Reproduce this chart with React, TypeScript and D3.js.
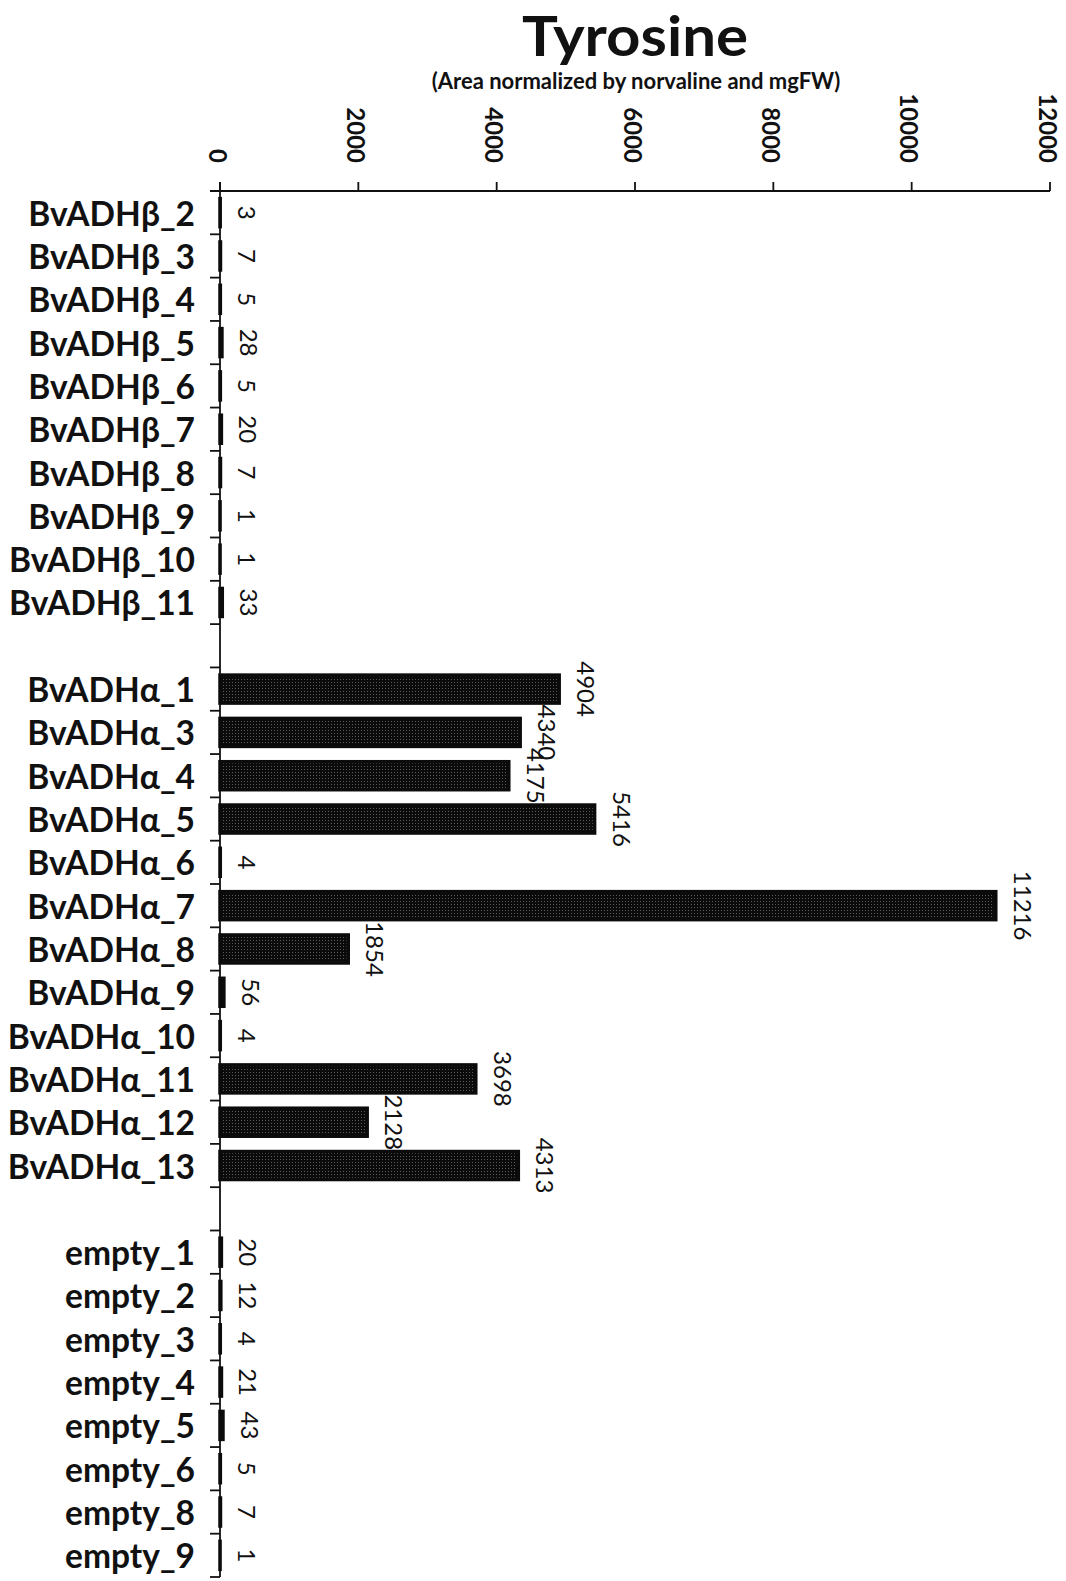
import React from "react";
import * as d3 from "d3";

const betaCategories = ["BvADHβ_2","BvADHβ_3","BvADHβ_4","BvADHβ_5","BvADHβ_6","BvADHβ_7","BvADHβ_8","BvADHβ_9","BvADHβ_10","BvADHβ_11"];
const betaValues = [3,7,5,28,5,20,7,1,1,33];
const alphaCategories = ["BvADHα_1","BvADHα_3","BvADHα_4","BvADHα_5","BvADHα_6","BvADHα_7","BvADHα_8","BvADHα_9","BvADHα_10","BvADHα_11","BvADHα_12","BvADHα_13"];
const alphaValues = [4904,4340,4175,5416,4,11216,1854,56,4,3698,2128,4313];
const emptyCategories = ["empty_1","empty_2","empty_3","empty_4","empty_5","empty_6","empty_8","empty_9"];
const emptyValues = [20,12,4,21,43,5,7,1];
const xTicks = [0,2000,4000,6000,8000,10000,12000];
const titleText = "Tyrosine";
const subtitleText = "(Area normalized by norvaline and mgFW)";

const W = 1066, H = 1581;
const FONT = "Lato, 'Noto Sans', sans-serif";

export default function App() {
  const slots: string[] = [...betaCategories, "__gap1", ...alphaCategories, "__gap2", ...emptyCategories];
  const rows = [
    ...betaCategories.map((c, i) => ({ c, v: betaValues[i] })),
    ...alphaCategories.map((c, i) => ({ c, v: alphaValues[i] })),
    ...emptyCategories.map((c, i) => ({ c, v: emptyValues[i] })),
  ];
  const pI = 0.3535;
  const y = d3.scaleBand<string>().domain(slots).range([191, 1577]).paddingInner(pI).paddingOuter(pI / 2);
  const x = d3.scaleLinear().domain([0, 12000]).range([220, 1050]);
  const step = y.step();
  const bw = y.bandwidth();
  const top = y.range()[0];
  const bottom = y.range()[1];
  const boundaries = d3.range(slots.length + 1).map((i) => top + i * step);
  const ink = "#111";

  return (
    <svg width={W} height={H} style={{ position: "absolute", left: 0, top: 0, background: "#fff" }}>
      <defs>
        <pattern id="dots" width={3} height={3} patternUnits="userSpaceOnUse">
          <rect width={3} height={3} fill="#0b0b0b" />
          <rect x={1} y={1} width={1} height={1} fill="#5a5a5a" />
        </pattern>
      </defs>
      <rect width={W} height={H} fill="#fff" />
      <text x={635} y={56} textAnchor="middle" fontFamily={FONT} fontWeight={700} fontSize={56}
        textLength={226} lengthAdjust="spacingAndGlyphs" fill={ink}>{titleText}</text>
      <text x={636} y={89} textAnchor="middle" fontFamily={FONT} fontWeight={700} fontSize={22} fill={ink}>{subtitleText}</text>

      {/* value axis */}
      <line x1={210} x2={x(12000)} y1={top} y2={top} stroke={ink} strokeWidth={1.8} />
      {xTicks.map((t) => (
        <g key={t}>
          <line x1={x(t)} x2={x(t)} y1={top} y2={top - 9} stroke={ink} strokeWidth={1.8} />
          <text transform={`translate(${x(t) - 2},${163}) rotate(90)`} textAnchor="end" dominantBaseline="central"
            fontFamily={FONT} fontWeight={700} fontSize={24} fill={ink}>{t}</text>
        </g>
      ))}

      {/* category axis */}
      <line x1={x(0)} x2={x(0)} y1={top - 9} y2={bottom} stroke={ink} strokeWidth={1.8} />
      {boundaries.map((b, i) => (
        <line key={i} x1={x(0) - 10} x2={x(0)} y1={b} y2={b} stroke={ink} strokeWidth={1.8} />
      ))}

      {rows.map((r) => {
        const yy = y(r.c)!;
        const cy = yy + bw / 2;
        return (
          <g key={r.c}>
            <rect x={x(0)} y={yy} width={x(r.v) - x(0)} height={bw} fill="url(#dots)" stroke="#0b0b0b" strokeWidth={3.5} />
            <text x={195} y={cy + 13} textAnchor="end" fontFamily={FONT} fontWeight={700} fontSize={33.5} fill={ink}>{r.c}</text>
            <text transform={`translate(${x(r.v) + 18},${cy}) rotate(90)`} textAnchor="middle"
              fontFamily={FONT} fontWeight={400} fontSize={24} fill={ink}>{r.v}</text>
          </g>
        );
      })}
    </svg>
  );
}
